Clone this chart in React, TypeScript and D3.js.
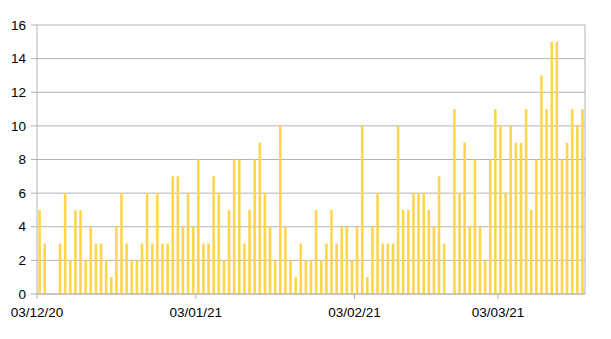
import React from "react";
import * as d3 from "d3";

const START_DATE = "2020-12-03";
const values: number[] = [
  5, 3, 0, 0, 3, 6, 2, 5, 5, 2, 4, 3, 3, 2, 1, 4, 6, 3,
  2, 2, 3, 6, 3, 6, 3, 3, 7, 7, 4, 6, 4, 8, 3, 3, 7, 6, 2,
  5, 8, 8, 3, 5, 8, 9, 6, 4, 2, 10, 4, 2, 1, 3, 2, 2, 5, 2,
  3, 5, 3, 4, 4, 2, 4, 10, 1, 4, 6, 3, 3, 3, 10, 5, 5, 6,
  6, 6, 5, 4, 7, 3, 0, 11, 6, 9, 4, 8, 4, 2, 8, 11, 10, 6, 10,
  9, 9, 11, 5, 8, 13, 11, 15, 15, 8, 9, 11, 10, 11,
];
const xTickDates = ["2020-12-03", "2021-01-03", "2021-02-03", "2021-03-03"];
const yTicks = [0, 2, 4, 6, 8, 10, 12, 14, 16];

const W = 611;
const H = 339;
const left = 37;
const right = 585;
const top = 25;
const bottom = 294;

export default function App() {
  const start = new Date(START_DATE + "T00:00:00Z");
  const dates = values.map((_, i) => d3.utcDay.offset(start, i));
  const end = d3.utcDay.offset(start, values.length);
  const x = d3.scaleUtc().domain([start, end]).range([left, right]);
  const y = d3.scaleLinear().domain([0, 16]).range([bottom, top]);
  const band = x(d3.utcDay.offset(start, 1)) - x(start);
  const barW = band * 0.5;
  const fmt = d3.utcFormat("%d/%m/%y");
  const font = "'Liberation Sans', Arial, sans-serif";
  const grid = "#b3b3b3";

  return (
    <svg
      width={W}
      height={H}
      style={{ position: "absolute", left: 0, top: 0, background: "#fff" }}
    >
      {yTicks.map((t) => (
        <g key={t}>
          <line x1={left - 6} x2={right} y1={y(t)} y2={y(t)} stroke={grid} strokeWidth={1} />
          <text
            x={left - 11}
            y={y(t)}
            dy="0.35em"
            textAnchor="end"
            fontFamily={font}
            fontSize={13.5}
            fill="#000"
          >
            {t}
          </text>
        </g>
      ))}
      <line x1={left} x2={left} y1={top} y2={bottom} stroke={grid} />
      <line x1={right} x2={right} y1={top} y2={bottom} stroke={grid} />
      {values.map((v, i) =>
        v > 0 ? (
          <rect
            key={i}
            x={x(dates[i]) + (band - barW) / 2}
            y={y(v)}
            width={barW}
            height={y(0) - y(v)}
            fill="#ffd54a"
          />
        ) : null
      )}
      <line x1={left} x2={right} y1={bottom} y2={bottom} stroke={grid} />
      {xTickDates.map((s) => {
        const d = new Date(s + "T00:00:00Z");
        const xx = x(d);
        return (
          <g key={s}>
            <line x1={xx} x2={xx} y1={bottom} y2={bottom + 5} stroke={grid} />
            <text
              x={xx}
              y={317}
              textAnchor="middle"
              fontFamily={font}
              fontSize={13.5}
              fill="#000"
            >
              {fmt(d)}
            </text>
          </g>
        );
      })}
    </svg>
  );
}
